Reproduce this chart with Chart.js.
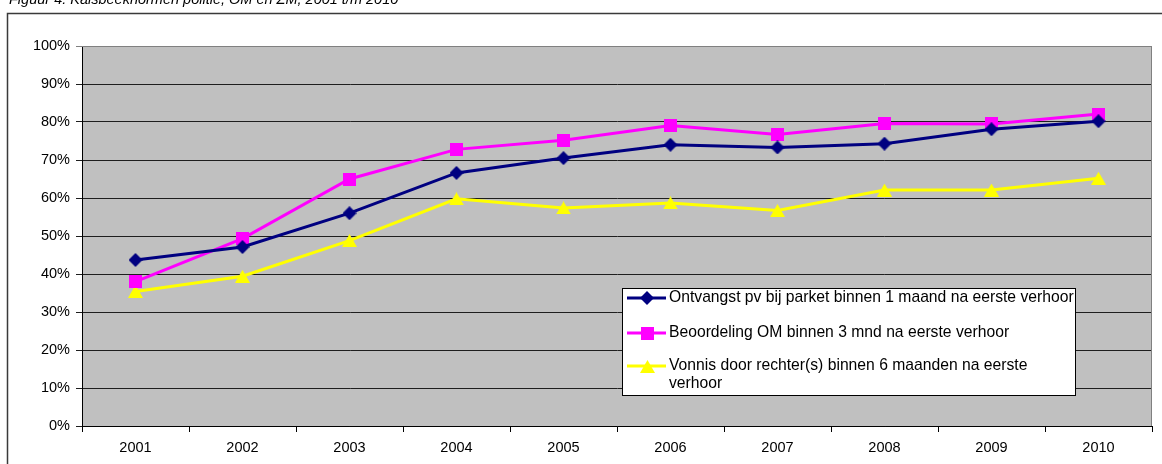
<!DOCTYPE html>
<html>
<head>
<meta charset="utf-8">
<script src="https://cdn.jsdelivr.net/npm/chart.js@4.4.0/dist/chart.umd.min.js"></script>
<style>
html,body{margin:0;padding:0;background:#fff;}
#wrap{width:1162px;height:464px;position:relative;overflow:hidden;}
canvas{display:block;}
</style>
</head>
<body>
<div id="wrap"><canvas id="c" width="1162" height="464"></canvas></div>
<script>
// ---- data ----
const titleText = 'Figuur 4. Kalsbeeknormen politie, OM en ZM, 2001 t/m 2010';
const years = ['2001','2002','2003','2004','2005','2006','2007','2008','2009','2010'];
const ontvangst   = [43.7, 47.1, 56.0, 66.6, 70.5, 74.0, 73.3, 74.3, 78.1, 80.2];
const beoordeling = [38.0, 49.3, 65.0, 72.8, 75.2, 79.1, 76.7, 79.6, 79.5, 82.1];
const vonnis      = [35.4, 39.4, 48.8, 59.8, 57.4, 58.7, 56.7, 62.1, 62.1, 65.2];
const seriesNames = [
  ['Ontvangst pv bij parket binnen 1 maand na eerste verhoor'],
  ['Beoordeling OM binnen 3 mnd na eerste verhoor'],
  ['Vonnis door rechter(s) binnen 6 maanden na eerste', 'verhoor']
];
const yMin = 0, yMax = 100, yStep = 10;

const FONT = "'Liberation Sans', Arial, sans-serif";

function makeMarker(kind, color) {
  const c = document.createElement('canvas');
  let w, h;
  if (kind === 'diamond') { w = 14; h = 14; }
  else if (kind === 'square') { w = 13; h = 13; }
  else { w = 15; h = 13; }
  c.width = w; c.height = h;
  const g = c.getContext('2d');
  g.fillStyle = color;
  g.beginPath();
  if (kind === 'diamond') {
    g.moveTo(w/2, 0); g.lineTo(w, h/2); g.lineTo(w/2, h); g.lineTo(0, h/2);
  } else if (kind === 'square') {
    g.rect(0, 0, w, h);
  } else {
    g.moveTo(w/2, 0); g.lineTo(w, h); g.lineTo(0, h);
  }
  g.closePath();
  g.fill();
  return c;
}

const colors = ['#000080', '#FF00FF', '#FFFF00'];
const markers = [
  makeMarker('diamond', colors[0]),
  makeMarker('square', colors[1]),
  makeMarker('triangle', colors[2])
];

const bgPlugin = {
  id: 'bgPlugin',
  beforeDraw(chart) {
    const {ctx, chartArea: a} = chart;
    ctx.save();
    ctx.fillStyle = '#fff';
    ctx.fillRect(0, 0, chart.width, chart.height);
    // title (partially cut at top)
    ctx.fillStyle = '#000';
    ctx.font = 'italic 14.5px ' + FONT;
    ctx.textBaseline = 'alphabetic';
    ctx.fillText(titleText, 9, 3.5);
    // outer frame
    ctx.strokeStyle = '#3a3a3a';
    ctx.lineWidth = 1.5;
    ctx.strokeRect(7.5, 13.5, chart.width + 20, chart.height + 20);
    // plot background
    ctx.fillStyle = '#C0C0C0';
    ctx.fillRect(a.left, a.top, a.right - a.left, a.bottom - a.top);
    ctx.restore();
  },
  afterDatasetsDraw(chart) {
    const {ctx, chartArea: a} = chart;
    ctx.save();
    // right / top border of plot area
    ctx.strokeStyle = '#808080';
    ctx.lineWidth = 1;
    ctx.beginPath();
    ctx.moveTo(a.left, a.top + 0.5);
    ctx.lineTo(a.right - 0.5, a.top + 0.5);
    ctx.lineTo(a.right - 0.5, a.bottom);
    ctx.stroke();

    // legend box
    const lx = 622, ly = 288, lw = 453, lh = 107;
    ctx.fillStyle = '#fff';
    ctx.fillRect(lx, ly, lw, lh);
    ctx.strokeStyle = '#000';
    ctx.lineWidth = 1;
    ctx.strokeRect(lx + 0.5, ly + 0.5, lw, lh);
    const rows = [[298], [333], [366, 384]];
    ctx.font = '15.7px ' + FONT;
    ctx.textBaseline = 'middle';
    chart.data.datasets.forEach((ds, i) => {
      const y = rows[i][0];
      ctx.strokeStyle = ds.borderColor;
      ctx.lineWidth = 3;
      ctx.beginPath();
      ctx.moveTo(627, y);
      ctx.lineTo(666, y);
      ctx.stroke();
      const m = markers[i];
      ctx.drawImage(m, Math.round(647 - m.width / 2), Math.round(y - m.height / 2));
      ctx.fillStyle = '#000';
      seriesNames[i].forEach((t, k) => ctx.fillText(t, 669, rows[i][k]));
    });
    ctx.restore();
  }
};

const mk = (label, data, i) => ({
  label, data,
  borderColor: colors[i],
  backgroundColor: colors[i],
  borderWidth: 3,
  pointStyle: markers[i],
  pointRadius: 7,
  pointHoverRadius: 7,
  tension: 0,
  clip: false
});

new Chart(document.getElementById('c'), {
  type: 'line',
  data: {
    labels: years,
    datasets: [
      mk(seriesNames[0].join(' '), ontvangst, 0),
      mk(seriesNames[1].join(' '), beoordeling, 1),
      mk(seriesNames[2].join(' '), vonnis, 2)
    ]
  },
  options: {
    responsive: false,
    animation: false,
    devicePixelRatio: 1,
    layout: { padding: { left: 0, right: 10, top: 46, bottom: 0 } },
    plugins: { legend: { display: false }, tooltip: { enabled: false }, title: { display: false } },
    scales: {
      x: {
        offset: true,
        grid: { offset: true, drawOnChartArea: false, drawTicks: true, tickLength: 6, color: '#000', lineWidth: 1 },
        border: { color: '#000', width: 1 },
        ticks: { color: '#000', font: { family: FONT, size: 14.5 }, padding: 7, maxRotation: 0, autoSkip: false },
        afterFit(s) { s.height = 38; }
      },
      y: {
        min: yMin, max: yMax,
        ticks: { stepSize: yStep, callback: v => v + '%', color: '#000', font: { family: FONT, size: 14.5 }, padding: 6 },
        grid: { color: c => (c.tick && c.tick.value === yMax) ? '#808080' : '#1e1e1e', lineWidth: 1, tickLength: 6 },
        border: { color: '#000', width: 1 },
        afterFit(s) { s.width = 82; }
      }
    }
  },
  plugins: [bgPlugin]
});
</script>
</body>
</html>
